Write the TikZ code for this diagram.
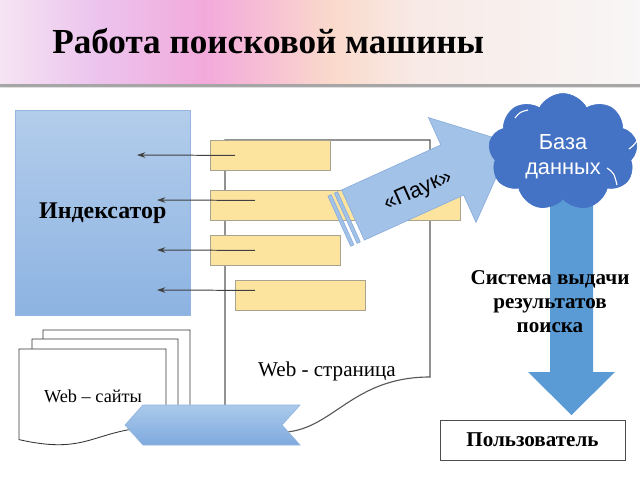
\documentclass[tikz,border=0pt]{standalone}
\usepackage{fontspec}
\setmainfont{Liberation Serif}
\newfontfamily\sansf{Liberation Sans}
\usetikzlibrary{shapes.symbols,arrows.meta,calc}
\definecolor{idxTop}{HTML}{B3CDEB}
\definecolor{idxBot}{HTML}{8DB3E2}
\definecolor{idxLine}{HTML}{93B5DF}
\definecolor{yel}{HTML}{FDE49E}
\definecolor{yelB}{HTML}{A8A290}
\definecolor{cloudB}{HTML}{4472C4}
\definecolor{downB}{HTML}{5B9BD5}
\definecolor{ribTop}{HTML}{AACAEB}
\definecolor{ribBot}{HTML}{7FA9DE}
\definecolor{spid}{HTML}{A3C2E8}
\definecolor{spidB}{HTML}{8AAEDC}
\definecolor{h0}{HTML}{F5E4F3}
\definecolor{h1}{HTML}{ECC4EE}
\definecolor{h2}{HTML}{F2AADB}
\definecolor{h3}{HTML}{F7C0D4}
\definecolor{h4}{HTML}{FADACB}
\definecolor{h5}{HTML}{F8EAE6}
\definecolor{h6}{HTML}{F8F6F6}
\pgfdeclarehorizontalshading{hdrsh}{100bp}{color(0bp)=(h0); color(25bp)=(h0); color(32.5bp)=(h1); color(41bp)=(h2); color(46bp)=(h3); color(51bp)=(h4); color(57.5bp)=(h5); color(75bp)=(h6); color(100bp)=(h6)}
\newcommand\pxu{0.025cm}
\newcommand\docshape[5]{\draw[#1] (#2,#3) -- ({#2+#4},#3) -- ({#2+#4},{#3+0.8*#5}) .. controls ({#2+0.5*#4},{#3+0.8*#5}) and ({#2+0.5*#4},{#3+1.107*#5}) .. (#2,{#3+0.934*#5}) -- cycle;}
\tikzset{
  ybox/.style={draw=yelB, fill=yel, line width=0.6pt, anchor=north west, inner sep=0pt, minimum height=30*\pxu},
  conn/.style={draw=black!75, line width=0.7pt, -{Stealth[length=6pt,width=4pt]}},
  docl/.style={draw=black!65, line width=0.8pt, fill=white},
  wdoc/.style={draw=black!80, line width=0.6pt, fill=white},
}
\begin{document}
\begin{tikzpicture}[x=0.025cm,y=-0.025cm]
\useasboundingbox (0,0) rectangle (640,480);
\fill[white] (0,0) rectangle (640,480);
% header
\shade[shading=hdrsh] (0,0) rectangle (640,84);
\fill[black!35] (0,84) rectangle (640,86.5);
\fill[black!12] (0,86.5) rectangle (640,88);
\node[font=\bfseries\fontsize{25}{30}\selectfont, anchor=base west, inner sep=0pt] (title) at (52,54) {Работа поисковой машины};
% indexer
\node[draw=idxLine, top color=idxTop, bottom color=idxBot, anchor=north west, inner sep=0pt,
      minimum width=175*\pxu, minimum height=205*\pxu,
      font=\bfseries\fontsize{17}{20}\selectfont] (idx) at (15,110) {Индексатор};
% web page document
\docshape{docl}{225}{140}{205}{296.25}
\node[font=\fontsize{15}{18}\selectfont] (wp) at (327,371) {Web - страница};
% yellow blocks
\node[ybox, minimum width=120*\pxu] (y1) at (210,140) {};
\node[ybox, minimum width=250*\pxu] (y2) at (210,190) {};
\node[ybox, minimum width=130*\pxu] (y3) at (210,235) {};
\node[ybox, minimum width=130*\pxu] (y4) at (235,280) {};
% arrows to indexer
\coordinate (i1) at (137,155);
\coordinate (i2) at (157,200);
\coordinate (i3) at (157,250);
\coordinate (i4) at (157,290);
\draw[conn] ($(y1.west)+(25,0)$) -- (i1);
\draw[conn] ($(y2.west)+(45,-5)$) -- (i2);
\draw[conn] ($(y3.west)+(45,0)$) -- (i3);
\draw[conn] ($(y4.west)+(20,-5)$) -- (i4);
% web sites
\docshape{wdoc}{43}{330}{147}{97}
\docshape{wdoc}{32}{339}{146}{97}
\docshape{wdoc}{19}{349}{147}{97}
\node[font=\fontsize{13}{16}\selectfont] (ws) at (93,396) {Web – сайты};
% ribbon
\shade[top color=ribTop, bottom color=ribBot, draw=idxLine, line width=0.5pt]
  (125,425) -- (143,405) -- (300,405) -- (282,425) -- (300,445) -- (143,445) -- cycle;
% down arrow
\fill[downB] (550,200) -- (593,200) -- (593,372) -- (615,372) -- (571.5,415) -- (528,372) -- (550,372) -- cycle;
% spider arrow
\begin{scope}[shift={(353,215)}, rotate=24.4]
  \filldraw[fill=spid, draw=spidB, line width=0.5pt] (0,-27.5) -- (109,-27.5) -- (109,-57.5) -- (174,0) -- (109,57.5) -- (109,27.5) -- (0,27.5) -- cycle;
  \filldraw[fill=spid, draw=spidB, line width=0.5pt] (-8,-27.5) rectangle (-4.5,27.5);
  \filldraw[fill=spid, draw=spidB, line width=0.5pt] (-15,-27.5) rectangle (-11.5,27.5);
\end{scope}
\node[rotate=24, font=\sansf\fontsize{15.5}{18}\selectfont] (spider) at (418,191) {«Паук»};
% cloud
\node[cloud, cloud puffs=9, cloud puff arc=125, aspect=1.3, fill=cloudB, draw=cloudB, inner sep=0pt,
      minimum width=149*\pxu, minimum height=117*\pxu] (db) at (563,152) {};
\draw[white, line width=0.8pt] (629,149) .. controls (633,146) .. (637,141);
\draw[white, line width=0.8pt] (607,168) .. controls (614,173) .. (617,185);
\draw[white, line width=0.8pt] (515,118) .. controls (520,112) .. (528,110);
\node[text=white, align=center, font=\sansf\fontsize{15.5}{18}\selectfont] (dbt) at ($(db.center)+(0,5)$) {База\\данных};
% results text
\node[align=center, font=\bfseries\fontsize{15}{17}\selectfont] (res) at (550,302) {Система выдачи\\результатов\\поиска};
% user
\node[draw=black!70, line width=0.7pt, minimum width=185*\pxu, minimum height=40*\pxu,
      font=\bfseries\fontsize{15}{18}\selectfont] (user) at (532.5,440) {Пользователь};
\end{tikzpicture}
\end{document}
